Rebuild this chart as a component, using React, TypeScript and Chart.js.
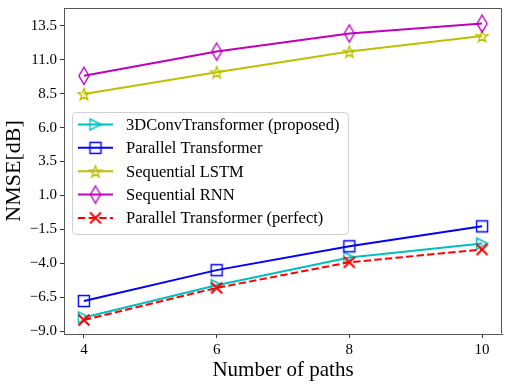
import React, { useEffect, useRef } from 'react';
import { Chart, registerables } from 'chart.js';
Chart.register(...registerables);

const paths = [4, 6, 8, 10];
const conv3d = [-8.0, -5.62, -3.58, -2.55];
const parallel = [-6.79, -4.51, -2.75, -1.28];
const lstm = [8.48, 10.09, 11.61, 12.76];
const rnn = [9.82, 11.61, 12.94, 13.67];
const perfect = [-8.19, -5.82, -3.93, -2.99];
const yTicks = [-9.0, -6.5, -4.0, -1.5, 1.0, 3.5, 6.0, 8.5, 11.0, 13.5];
const seriesNames = [
  '3DConvTransformer (proposed)',
  'Parallel Transformer',
  'Sequential LSTM',
  'Sequential RNN',
  'Parallel Transformer (perfect)',
];
const xTitle = 'Number of paths';
const yTitle = 'NMSE[dB]';

const FONT = '"Liberation Serif", "Times New Roman", serif';

type Kind = 'tri' | 'square' | 'star' | 'diamond' | 'x';

function makeMarker(kind: Kind, color: string): HTMLCanvasElement {
  const c = document.createElement('canvas');
  c.width = 24;
  c.height = 24;
  const g = c.getContext('2d')!;
  g.strokeStyle = color;
  g.lineWidth = 1.4;
  g.lineJoin = 'miter';
  g.translate(12, 12);
  g.beginPath();
  if (kind === 'tri') {
    g.moveTo(5.5, 0);
    g.lineTo(-5.5, -5.5);
    g.lineTo(-5.5, 5.5);
    g.closePath();
  } else if (kind === 'square') {
    g.rect(-5.5, -5.5, 11, 11);
  } else if (kind === 'star') {
    for (let i = 0; i < 10; i++) {
      const r = i % 2 ? 2.5 : 6.2;
      const a = -Math.PI / 2 + (i * Math.PI) / 5;
      const px = r * Math.cos(a);
      const py = r * Math.sin(a) + 0.7;
      if (i === 0) g.moveTo(px, py);
      else g.lineTo(px, py);
    }
    g.closePath();
  } else if (kind === 'diamond') {
    g.moveTo(0, -8.5);
    g.lineTo(5, 0);
    g.lineTo(0, 8.5);
    g.lineTo(-5, 0);
    g.closePath();
  } else {
    g.lineWidth = 2;
    g.moveTo(-5.5, -5.5);
    g.lineTo(5.5, 5.5);
    g.moveTo(5.5, -5.5);
    g.lineTo(-5.5, 5.5);
  }
  g.stroke();
  return c;
}

export default function App() {
  const ref = useRef<HTMLCanvasElement>(null);
  useEffect(() => {
    const colors = ['#00BFBF', '#0000FF', '#BFBF00', '#BF00BF', '#FF0000'];
    const kinds: Kind[] = ['tri', 'square', 'star', 'diamond', 'x'];
    const values = [conv3d, parallel, lstm, rnn, perfect];
    const markers = kinds.map((k, i) => makeMarker(k, colors[i]));
    const dashes = [[], [], [], [], [7.4, 3.2]];

    const datasets = values.map((vals, i) => ({
      label: seriesNames[i],
      data: paths.map((p, j) => ({ x: p, y: vals[j] })),
      borderColor: colors[i],
      backgroundColor: colors[i],
      borderWidth: 2,
      borderDash: dashes[i],
      pointStyle: markers[i],
      pointRadius: 6,
      tension: 0,
      fill: false,
      order: 5 - i,
    }));

    const frameLegend = {
      id: 'frameLegend',
      afterDraw(chart: any) {
        const ctx = chart.ctx as CanvasRenderingContext2D;
        const a = chart.chartArea;
        ctx.save();
        ctx.strokeStyle = '#555';
        ctx.lineWidth = 1;
        ctx.beginPath();
        const L = Math.round(a.left) + 0.5;
        const R = Math.round(a.right) - 0.5;
        const T = Math.round(a.top) + 0.5;
        const B = Math.round(a.bottom) - 0.5;
        ctx.moveTo(L, T);
        ctx.lineTo(R, T);
        ctx.lineTo(R, B);
        ctx.stroke();

        // legend box
        const bx = a.left + 8.5;
        const by = a.top + 104.5;
        const bw = 276;
        const bh = 122;
        const rr = 4;
        ctx.beginPath();
        ctx.moveTo(bx + rr, by);
        ctx.lineTo(bx + bw - rr, by);
        ctx.arcTo(bx + bw, by, bx + bw, by + rr, rr);
        ctx.lineTo(bx + bw, by + bh - rr);
        ctx.arcTo(bx + bw, by + bh, bx + bw - rr, by + bh, rr);
        ctx.lineTo(bx + rr, by + bh);
        ctx.arcTo(bx, by + bh, bx, by + bh - rr, rr);
        ctx.lineTo(bx, by + rr);
        ctx.arcTo(bx, by, bx + rr, by, rr);
        ctx.closePath();
        ctx.fillStyle = 'rgba(255,255,255,0.8)';
        ctx.fill();
        ctx.strokeStyle = '#d0d0d0';
        ctx.stroke();

        chart.data.datasets.forEach((ds: any, i: number) => {
          const y = by + 12 + i * 23.35;
          ctx.save();
          ctx.strokeStyle = ds.borderColor;
          ctx.lineWidth = 2;
          ctx.setLineDash(ds.borderDash || []);
          ctx.beginPath();
          ctx.moveTo(bx + 5.5, y);
          ctx.lineTo(bx + 40.5, y);
          ctx.stroke();
          ctx.restore();
          const m = ds.pointStyle as HTMLCanvasElement;
          ctx.drawImage(m, bx + 23 - m.width / 2, y - m.height / 2);
          ctx.fillStyle = '#000';
          ctx.font = `16.5px ${FONT}`;
          ctx.textBaseline = 'middle';
          ctx.textAlign = 'left';
          ctx.fillText(ds.label, bx + 53.5, y + 1);
        });
        ctx.restore();
      },
    };

    const chart = new Chart(ref.current!, {
      type: 'line',
      data: { datasets: datasets as any },
      plugins: [frameLegend],
      options: {
        animation: false,
        responsive: false,
        maintainAspectRatio: false,
        layout: { padding: { top: 7, right: 10, left: 0, bottom: 0 } },
        plugins: { legend: { display: false }, tooltip: { enabled: false } },
        scales: {
          x: {
            type: 'linear',
            min: 3.7,
            max: 10.3,
            afterBuildTicks: (s: any) => {
              s.ticks = paths.map((v) => ({ value: v }));
            },
            afterFit: (s: any) => {
              s.height = 50;
              s.paddingLeft = 0;
              s.paddingRight = 0;
            },
            grid: { display: true, drawOnChartArea: false, drawTicks: true, tickLength: 4, color: '#333' },
            border: { display: true, color: '#555', width: 1 },
            ticks: {
              font: { family: FONT, size: 15 },
              color: '#000',
              padding: 3,
              maxRotation: 0,
              autoSkip: false,
              callback: (v: any) => String(v),
            },
            title: {
              display: true,
              text: xTitle,
              color: '#000',
              font: { family: FONT, size: 21 },
              padding: { top: 0, bottom: 1 },
            },
          },
          y: {
            type: 'linear',
            min: -9.22,
            max: 14.82,
            afterBuildTicks: (s: any) => {
              s.ticks = yTicks.map((v) => ({ value: v }));
            },
            afterFit: (s: any) => {
              s.width = 64;
              s.paddingTop = 0;
              s.paddingBottom = 0;
            },
            grid: { display: true, drawOnChartArea: false, drawTicks: true, tickLength: 4, color: '#333' },
            border: { display: true, color: '#555', width: 1 },
            ticks: {
              font: { family: FONT, size: 15 },
              color: '#000',
              padding: 3,
              autoSkip: false,
              callback: (v: any) => (v < 0 ? '\u2212' : '') + Math.abs(v).toFixed(1),
            },
            title: {
              display: true,
              text: yTitle,
              color: '#000',
              font: { family: FONT, size: 22 },
              padding: { top: 1, bottom: 0 },
            },
          },
        },
      },
    });
    return () => chart.destroy();
  }, []);

  return (
    <div style={{ position: 'fixed', left: 0, top: 0, width: 512, height: 384, background: '#fff' }}>
      <canvas ref={ref} width={512} height={384} style={{ width: 512, height: 384 }} />
    </div>
  );
}
